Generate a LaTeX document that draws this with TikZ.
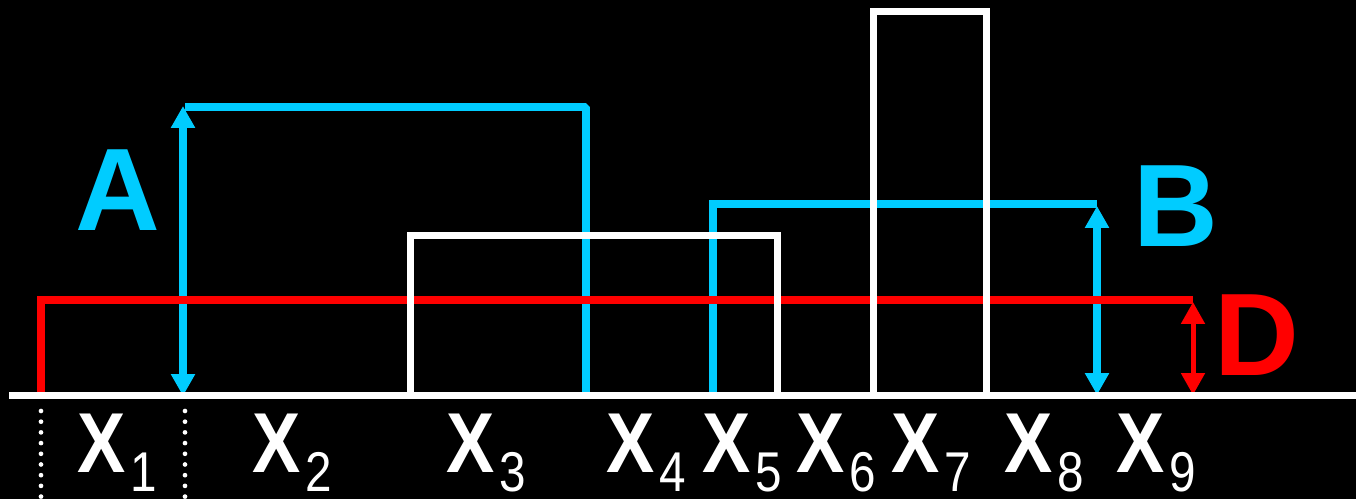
\documentclass[tikz,border=0pt]{standalone}
\usepackage{fontspec}
\setmainfont{Liberation Sans}
\usetikzlibrary{arrows.meta}
\definecolor{skyblue}{RGB}{0,204,255}
\newcommand{\xsub}[1]{\scalebox{0.85}[1]{\fontsize{48.4pt}{50pt}\selectfont\bfseries X\hspace{3pt}\raisebox{-10.6pt}{\fontsize{31.9pt}{33pt}\selectfont\mdseries #1}}}

\begin{document}
\begin{tikzpicture}[x=0.02cm, y=-0.02cm,
  wline/.style={white, line width=0.14cm},
  bline/.style={skyblue, line width=0.15cm},
  rline/.style={red, line width=0.16cm},
  dim/.style={{Triangle[width=0.46cm, length=0.44cm]}-{Triangle[width=0.46cm, length=0.44cm]}},
  biglab/.style={inner sep=0pt, font=\fontsize{66.8pt}{68pt}\selectfont\bfseries},
  xlab/.style={white, inner sep=0pt, anchor=base west}]
\fill[black] (0,0) rectangle (1356,499);
\useasboundingbox (0,0) rectangle (1356,499);
% anchor points
\coordinate (aBot) at (183,396);
\coordinate (aTop) at (183,106);
\coordinate (bBot) at (1097,395);
\coordinate (bTop) at (1097,206);
\coordinate (dBot) at (1193,395);
\coordinate (dTop) at (1193,302);
% blue: interval A and interval B
\draw[bline, miter limit=1] (185,107) -- (586,107) -- (586,396);
\draw[bline, dim] (aBot) -- (aTop);
\draw[bline] (713,396) -- (713,204) -- (1097,204);
\draw[bline, dim] (bBot) -- (bTop);
% red: level D
\draw[rline] (41,396) -- (41,300) -- (1193,300);
\draw[red, line width=0.1cm, dim] (dBot) -- (dTop);
% white boxes and base line
\draw[wline] (410,396) -- (410,236) -- (777,236) -- (777,396);
\draw[wline] (873,396) -- (873,12) -- (986,12) -- (986,396);
\draw[wline] (9,396) -- (1356,396);
% dotted guides
\coordinate (g1) at (41,411);
\coordinate (g2) at (185,411);
\draw[white, line width=0.094cm, line cap=round, dash pattern=on 0pt off 0.214cm] (g1) -- ++(0,95);
\draw[white, line width=0.094cm, line cap=round, dash pattern=on 0pt off 0.214cm] (g2) -- ++(0,95);
% letters
\node[biglab, skyblue] (labA) at (118,190) {A};
\node[biglab, skyblue] (labB) at (1176,206) {B};
\node[biglab, red] (labD) at (1257,335) {D};
\foreach \n/\p in {1/77, 2/252, 3/446, 4/606, 5/702, 6/796, 7/891, 8/1004, 9/1116} {
  \node[xlab] (x\n) at (\p,473) {\xsub{\n}};
}
\end{tikzpicture}
\end{document}
